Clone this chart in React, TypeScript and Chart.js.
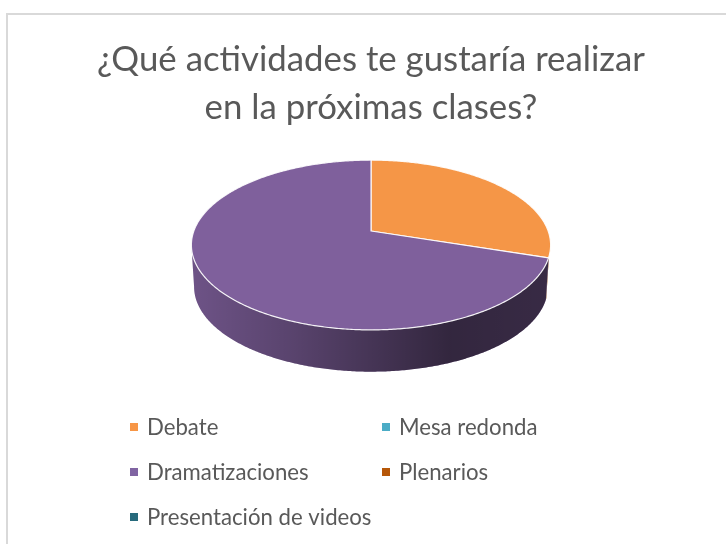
import React, { useEffect, useRef } from "react";
import { Chart, registerables } from "chart.js";

Chart.register(...registerables);

const categories = ["Debate", "Mesa redonda", "Dramatizaciones", "Plenarios", "Presentación de videos"];
const values = [3, 0, 7, 0, 0];
const colors = ["#F59647", "#4BACC6", "#7F609C", "#B65708", "#276A7C"];
const legendColors = ["#F79646", "#4BACC6", "#8064A2", "#B65708", "#276A7C"];
const titleLines = ["¿Qué actividades te gustaría realizar", "en la próximas clases?"];

const FONT = "Lato, Carlito, sans-serif";
const TILT = -0.1647;
const SX = 1.772;
const SY = 0.826;
const DEPTH = 0.418;
const BOTTOM_SHRINK = 0.985;
const FRONT_START = 0.3;

function project(el: any, angle: number, depth = 0) {
  const u = Math.cos(angle);
  const v = Math.sin(angle);
  const w = 1 + TILT * v;
  const R = el.outerRadius;
  const shrink = depth ? BOTTOM_SHRINK : 1;
  return {
    x: el.x + (SX * R * u * shrink) / w,
    y: el.y + (SY * R * v) / w + depth * R,
  };
}

function samples(a: number, b: number) {
  const n = Math.max(2, Math.ceil(Math.abs(b - a) / 0.01));
  const out: number[] = [];
  for (let i = 0; i <= n; i++) out.push(a + ((b - a) * i) / n);
  return out;
}

const pie3d = {
  id: "pie3d",
  beforeDatasetDraw(chart: any) {
    const ctx = chart.ctx as CanvasRenderingContext2D;
    const arcs = chart.getDatasetMeta(0).data as any[];
    const visible = arcs.filter((a) => a.endAngle - a.startAngle > 1e-6);
    const ref = visible[0];
    const R = ref.outerRadius;
    const left = ref.x - SX * R;
    const right = ref.x + SX * R;
    const frontEnd = Math.PI - Math.asin(-TILT);

    visible.forEach((el) => {
      const i = arcs.indexOf(el);
      const a = Math.max(el.startAngle, FRONT_START);
      const b = Math.min(el.endAngle, frontEnd);
      if (b <= a) return;
      const angles = samples(a, b);
      const trace = () => {
        ctx.beginPath();
        angles.forEach((t, k) => {
          const p = project(el, t);
          k ? ctx.lineTo(p.x, p.y) : ctx.moveTo(p.x, p.y);
        });
        [...angles].reverse().forEach((t) => {
          const p = project(el, t, DEPTH);
          ctx.lineTo(p.x, p.y);
        });
        ctx.closePath();
      };
      ctx.fillStyle = colors[i];
      trace();
      ctx.fill();
      const g = ctx.createLinearGradient(left, 0, right, 0);
      g.addColorStop(0, "rgba(0,0,0,0.14)");
      g.addColorStop(0.28, "rgba(0,0,0,0.3)");
      g.addColorStop(0.5, "rgba(0,0,0,0.45)");
      g.addColorStop(0.72, "rgba(0,0,0,0.6)");
      g.addColorStop(1, "rgba(0,0,0,0.56)");
      ctx.fillStyle = g;
      trace();
      ctx.fill();
    });

    visible.forEach((el) => {
      const i = arcs.indexOf(el);
      ctx.beginPath();
      ctx.moveTo(el.x, el.y);
      samples(el.startAngle, el.endAngle).forEach((t) => {
        const p = project(el, t);
        ctx.lineTo(p.x, p.y);
      });
      ctx.closePath();
      ctx.fillStyle = colors[i];
      ctx.fill();
      ctx.strokeStyle = "rgba(255,255,255,0.9)";
      ctx.lineWidth = 1.2;
      ctx.lineJoin = "round";
      ctx.stroke();
    });
    return false;
  },
};

const frameAndLegend = {
  id: "frameAndLegend",
  beforeDraw(chart: any) {
    const ctx = chart.ctx as CanvasRenderingContext2D;
    ctx.save();
    ctx.strokeStyle = "#D9D9D9";
    ctx.lineWidth = 2;
    ctx.strokeRect(7, 14, 760, 600);
    ctx.restore();
  },
  afterDraw(chart: any) {
    const ctx = chart.ctx as CanvasRenderingContext2D;
    const columns = [130, 382];
    const rows = [427, 472, 517];
    ctx.save();
    ctx.font = `22.2px ${FONT}`;
    ctx.textBaseline = "middle";
    chart.data.labels.forEach((label: string, i: number) => {
      const x = columns[i % 2];
      const y = rows[Math.floor(i / 2)];
      ctx.fillStyle = legendColors[i];
      ctx.fillRect(x, y - 4, 8, 8);
      ctx.fillStyle = "#595959";
      ctx.fillText(label, x + 17, y + 1);
    });
    ctx.restore();
  },
};

export default function App() {
  const ref = useRef<HTMLCanvasElement>(null);
  useEffect(() => {
    document.body.style.margin = "0";
    const chart = new Chart(ref.current!, {
      type: "pie",
      data: {
        labels: categories,
        datasets: [{ data: values, backgroundColor: colors }],
      },
      options: {
        responsive: false,
        animation: false,
        layout: { padding: { left: 16, bottom: 212 } },
        plugins: {
          legend: { display: false },
          tooltip: { enabled: false },
          title: {
            display: true,
            text: titleLines,
            color: "#595959",
            font: { family: FONT, size: 34.8, weight: "normal", lineHeight: 1.38 },
            padding: { top: 36, bottom: -2 },
          },
        },
      },
      plugins: [frameAndLegend, pie3d],
    } as any);
    return () => chart.destroy();
  }, []);
  return <canvas ref={ref} width={726} height={544} style={{ display: "block" }} />;
}
